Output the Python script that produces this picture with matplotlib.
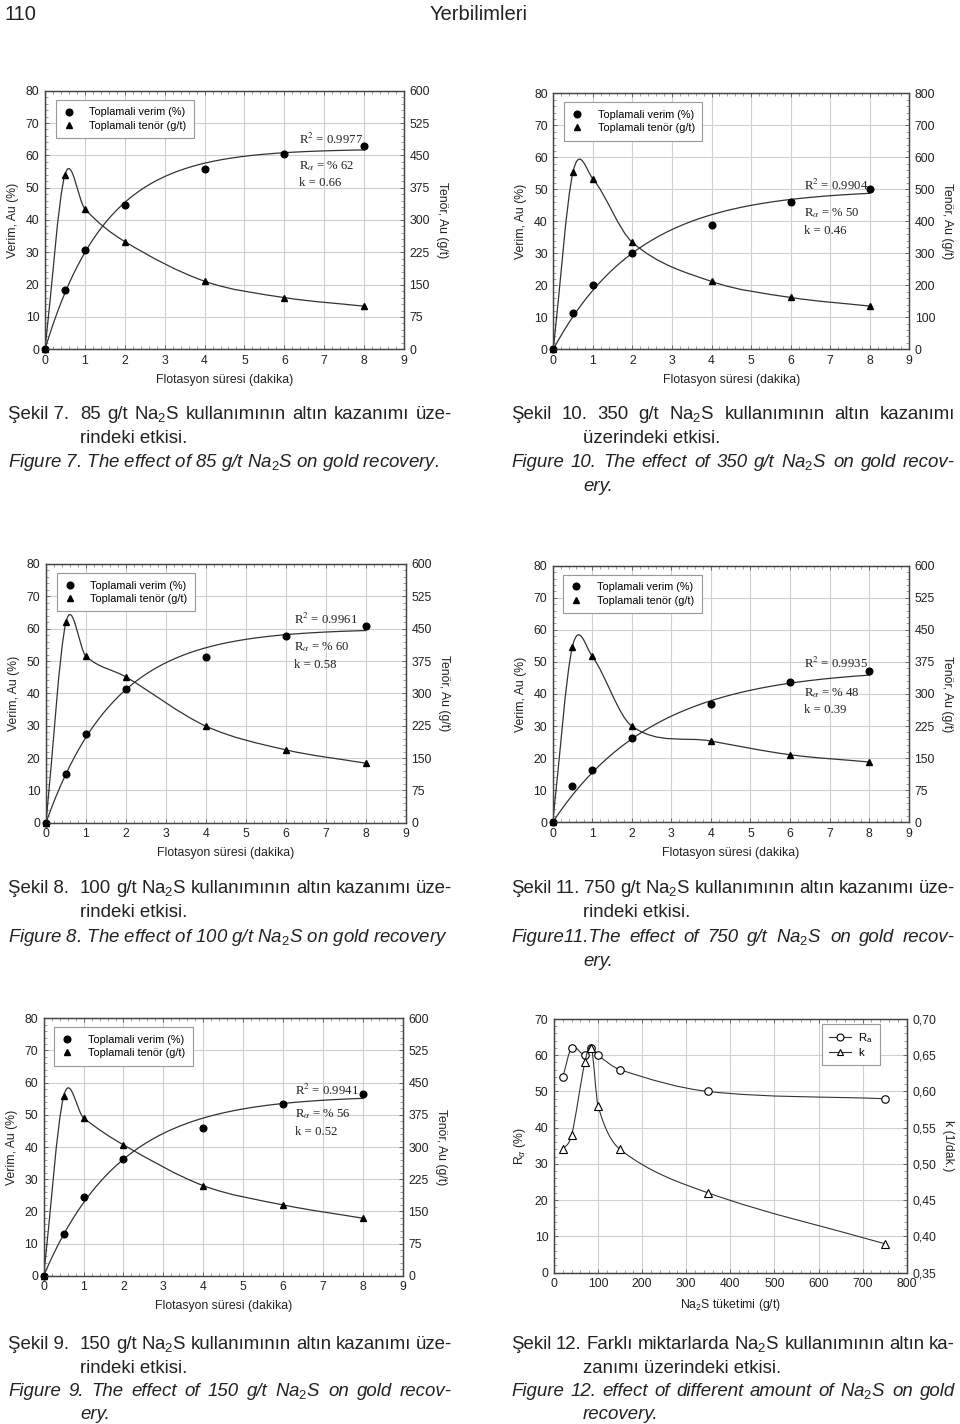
# Na2S flotation page: five recovery/grade charts plus the Ra/k summary chart
import numpy as np
import matplotlib
matplotlib.use("Agg")
from matplotlib import pyplot as plt
from matplotlib.path import Path
from matplotlib.patches import PathPatch
from matplotlib.lines import Line2D
from matplotlib.ticker import MultipleLocator, AutoMinorLocator, FuncFormatter

plt.rcParams['font.family'] = ['Liberation Sans', 'DejaVu Sans']
plt.rcParams['mathtext.fontset'] = 'custom'
plt.rcParams['mathtext.rm'] = 'Liberation Sans'
plt.rcParams['mathtext.it'] = 'Liberation Sans:italic'
plt.rcParams['mathtext.bf'] = 'Liberation Sans:bold'

# ---- data ----
time_min = [0, 0.5, 1, 2, 4, 6, 8]

verim_85 = [0, 18.2, 30.8, 44.7, 55.9, 60.4, 63.0]
tenor_85 = [0, 405, 326, 250, 158, 120, 100]
verim_350 = [0, 11.2, 20.0, 30.1, 38.7, 46.0, 50.2]
tenor_350 = [0, 555, 533, 334, 212, 162, 135]
verim_100 = [0, 15.0, 27.5, 41.3, 51.3, 57.6, 60.7]
tenor_100 = [0, 465, 386, 338, 224, 169, 138]
verim_750 = [0, 11.2, 16.3, 26.2, 36.8, 43.6, 47.3]
tenor_750 = [0, 411, 388, 225, 190, 158, 141]
verim_150 = [0, 12.9, 24.5, 36.4, 46.0, 53.5, 56.4]
tenor_150 = [0, 418, 368, 305, 210, 165, 134]

# fit parameters printed on each chart
r2_vals = {"85": "0.9977", "350": "0.9904", "100": "0.9961", "750": "0.9935", "150": "0.9941"}
rinf_vals = {"85": 62, "350": 50, "100": 60, "750": 48, "150": 56}
k_vals = {"85": 0.66, "350": 0.46, "100": 0.58, "750": 0.39, "150": 0.52}

# summary chart (Sekil 12)
na2s_dose = [20, 40, 70, 85, 100, 150, 350, 750]
ra_pct = [54, 62, 60, 62, 60, 56, 50, 48]
k_rate = [0.52, 0.54, 0.64, 0.66, 0.58, 0.52, 0.46, 0.39]

W, H = 960, 1424
fig = plt.figure(figsize=(W / 100, H / 100), dpi=100)
fig.patch.set_facecolor('white')

LINE = '#333333'
GRID = '#d0d0d0'
TXT = '#222222'
CAP_FONT = ['Liberation Sans', 'DejaVu Sans']


def rect(left, right, top, bottom):
    # pixel box -> figure fraction
    return [left / W, 1 - bottom / H, (right - left) / W, (bottom - top) / H]


def smooth_path(x, y):
    # cubic hermite through the points, drawn as bezier segments
    x = np.asarray(x, float)
    y = np.asarray(y, float)
    n = len(x)
    m = np.zeros(n)
    m[0] = (y[1] - y[0]) / (x[1] - x[0])
    m[-1] = (y[-1] - y[-2]) / (x[-1] - x[-2])
    for i in range(1, n - 1):
        m[i] = (y[i + 1] - y[i - 1]) / (x[i + 1] - x[i - 1])
    verts = [(x[0], y[0])]
    codes = [Path.MOVETO]
    for i in range(n - 1):
        h = x[i + 1] - x[i]
        verts += [(x[i] + h / 3, y[i] + m[i] * h / 3),
                  (x[i + 1] - h / 3, y[i + 1] - m[i + 1] * h / 3),
                  (x[i + 1], y[i + 1])]
        codes += [Path.CURVE4] * 3
    return Path(verts, codes)


def style_axes(ax, ax2):
    for a in (ax, ax2):
        for s in a.spines.values():
            s.set_color('#444444')
            s.set_linewidth(0.9)
    ax.grid(True, color=GRID, lw=0.8)
    ax.set_axisbelow(True)
    ax.tick_params(which='major', direction='in', length=3, width=0.6, labelsize=8.8,
                   labelcolor=TXT, color='#555555', top=True, pad=4)
    ax.tick_params(which='minor', direction='in', length=2, width=0.5, color='#777777', top=True)
    ax2.tick_params(which='major', direction='in', length=3, width=0.6, labelsize=8.8,
                    labelcolor=TXT, color='#555555', pad=4)
    ax2.tick_params(which='minor', direction='in', length=2, width=0.5, color='#777777')
    ax.yaxis.set_minor_locator(AutoMinorLocator(5))
    ax2.yaxis.set_minor_locator(AutoMinorLocator(5))
    ax.xaxis.set_minor_locator(AutoMinorLocator(5))


def time_chart(box, verim, tenor, tenor_max, key, ann_x, ann_y):
    ax = fig.add_axes(rect(*box))
    ax2 = ax.twinx()
    ax.set_xlim(0, 9)
    ax.set_ylim(0, 80)
    ax2.set_ylim(0, tenor_max)
    ax.xaxis.set_major_locator(MultipleLocator(1))
    ax.yaxis.set_major_locator(MultipleLocator(10))
    ax2.yaxis.set_major_locator(MultipleLocator(tenor_max / 8))
    style_axes(ax, ax2)

    # first order model R = Rinf (1 - exp(-k t)) with the printed parameters
    rinf, k = rinf_vals[key], k_vals[key]
    t = np.linspace(0, 8, 200)
    ax.plot(t, rinf * (1 - np.exp(-k * t)), color=LINE, lw=0.9)
    ax.plot(time_min, verim, 'o', color='black', ms=4.8, clip_on=False, zorder=5)

    ax2.add_patch(PathPatch(smooth_path(time_min, tenor), fill=False, ec=LINE, lw=0.9))
    ax2.plot(time_min, tenor, '^', color='black', ms=5.0, clip_on=False, zorder=5)

    ax.set_xlabel("Flotasyon süresi (dakika)", fontsize=8.8, color=TXT, labelpad=5)
    ax.set_ylabel("Verim, Au (%)", fontsize=8.8, color=TXT, labelpad=5)
    ax2.set_ylabel("Tenör, Au (g/t)", fontsize=8.8, color=TXT, rotation=270, labelpad=13)

    handles = [Line2D([], [], ls='none', marker='o', color='black', ms=4.8),
               Line2D([], [], ls='none', marker='^', color='black', ms=5.0)]
    leg = ax.legend(handles, ["Toplamali verim (%)", "Toplamali tenör (g/t)"],
                    loc='upper left', bbox_to_anchor=(0.03, 0.965), borderaxespad=0,
                    fontsize=7.8, fancybox=False, edgecolor='#999999', framealpha=1,
                    handlelength=1.0, handletextpad=1.4, borderpad=0.7, labelspacing=0.3)
    leg.get_frame().set_linewidth(0.8)

    kw = dict(family='Liberation Serif', math_fontfamily='stix', fontsize=9.2,
              color=TXT, va='center', ha='left')
    ax.text(ann_x, ann_y[0], "R$^2$ = " + r2_vals[key], **kw)
    ax.text(ann_x, ann_y[1], "R$_\\alpha$ = % " + str(rinf), **kw)
    ax.text(ann_x, ann_y[2], "k = %.2f" % k, **kw)
    return ax


time_chart((45, 404, 90.7, 349.3), verim_85, tenor_85, 600, "85", 6.37, (65.0, 56.8, 51.4))
time_chart((553.3, 909.3, 93.3, 349.3), verim_350, tenor_350, 800, "350", 6.35, (51.3, 42.5, 37.0))
time_chart((46, 405.7, 564, 822.7), verim_100, tenor_100, 600, "100", 6.2, (62.7, 54.2, 48.8))
time_chart((552.7, 908.7, 565.7, 822.3), verim_750, tenor_750, 600, "750", 6.36, (49.4, 40.4, 35.0))
time_chart((43.7, 402.7, 1018.3, 1275.7), verim_150, tenor_150, 600, "150", 6.3, (57.7, 50.2, 44.8))

# ---- Sekil 12: Ra and k against Na2S dose ----
ax = fig.add_axes(rect(554, 906.7, 1019, 1272.7))
ax2 = ax.twinx()
ax.set_xlim(0, 800)
ax.set_ylim(0, 70)
ax2.set_ylim(0.35, 0.70)
ax.xaxis.set_major_locator(MultipleLocator(100))
ax.yaxis.set_major_locator(MultipleLocator(10))
ax2.yaxis.set_major_locator(MultipleLocator(0.05))
ax2.yaxis.set_major_formatter(FuncFormatter(lambda v, p: ("%.2f" % v).replace('.', ',')))
style_axes(ax, ax2)

ax.add_patch(PathPatch(smooth_path(na2s_dose, ra_pct), fill=False, ec=LINE, lw=0.8))
ax.plot(na2s_dose, ra_pct, 'o', mfc='white', mec='black', mew=0.8, ms=5.4, zorder=5)
ax2.add_patch(PathPatch(smooth_path(na2s_dose, k_rate), fill=False, ec=LINE, lw=0.8))
ax2.plot(na2s_dose, k_rate, '^', mfc='white', mec='black', mew=0.8, ms=5.6, zorder=5)

ax.set_xlabel("Na$_2$S tüketimi (g/t)", fontsize=8.8, color=TXT, labelpad=5)
ax.set_ylabel("R$_\\alpha$ (%)", fontsize=8.8, color=TXT, labelpad=5)
ax2.set_ylabel("k (1/dak.)", fontsize=8.8, color=TXT, rotation=270, labelpad=13)

handles = [Line2D([], [], color=LINE, lw=0.8, marker='o', mfc='white', mec='black', mew=0.8, ms=5),
           Line2D([], [], color=LINE, lw=0.8, marker='^', mfc='white', mec='black', mew=0.8, ms=5)]
leg = ax2.legend(handles, ["R$_\\mathrm{a}$", "k"], loc='upper right', bbox_to_anchor=(0.924, 0.979),
                 borderaxespad=0, fontsize=8.2, fancybox=False, edgecolor='#999999',
                 framealpha=1, handlelength=2.0, handletextpad=0.6, borderpad=0.6,
                 labelspacing=0.3)
leg.get_frame().set_linewidth(0.8)

# ---- page header and captions ----
fig.text(5 / W, 1 - 20 / H, "110", fontsize=14.5, family=CAP_FONT, color=TXT, va='baseline')
fig.text(479 / W, 1 - 20 / H, "Yerbilimleri", fontsize=14.5, family=CAP_FONT, color=TXT,
         va='baseline', ha='center')

renderer = fig.canvas.get_renderer()
CAP_SIZE = 13.4


def cap_line(text, x0, y, x1=None, italic=False):
    style = 'italic' if italic else 'normal'
    kw = dict(fontsize=CAP_SIZE, family=CAP_FONT, style=style, color=TXT, va='baseline')
    if x1 is None:
        fig.text(x0 / W, 1 - y / H, text, **kw)
        return
    # justified line: spread the words between x0 and x1
    words = text.split()
    items = [fig.text(x0 / W, 1 - y / H, w, **kw) for w in words]
    widths = [t.get_window_extent(renderer).width for t in items]
    gap = (x1 - x0 - sum(widths)) / (len(words) - 1)
    x = x0
    for t, w in zip(items, widths):
        t.set_x(x / W)
        x += w + gap


# Sekil 7 / 10
cap_line("Şekil 7.", 8, 419)
cap_line("85 g/t Na$_2$S kullanımının altın kazanımı üze-", 80, 419, 452)
cap_line("rindeki etkisi.", 80, 443)
cap_line("Figure 7. The effect of 85 g/t Na$_2$S on gold recovery.", 8, 467, italic=True)
cap_line("Şekil 10. 350 g/t Na$_2$S kullanımının altın kazanımı", 511, 419, 955)
cap_line("üzerindeki etkisi.", 583, 443)
cap_line("Figure 10. The effect of 350 g/t Na$_2$S on gold recov-", 511, 467, 955, italic=True)
cap_line("ery.", 583, 491, italic=True)

# Sekil 8 / 11
cap_line("Şekil 8.", 8, 893)
cap_line("100 g/t Na$_2$S kullanımının altın kazanımı üze-", 80, 893, 452)
cap_line("rindeki etkisi.", 80, 917)
cap_line("Figure 8. The effect of 100 g/t Na$_2$S on gold recovery", 8, 942, italic=True)
cap_line("Şekil 11. 750 g/t Na$_2$S kullanımının altın kazanımı üze-", 511, 893, 955)
cap_line("rindeki etkisi.", 583, 917)
cap_line("Figure11.The effect of 750 g/t Na$_2$S on gold recov-", 511, 942, 955, italic=True)
cap_line("ery.", 583, 966, italic=True)

# Sekil 9 / 12
cap_line("Şekil 9.", 8, 1349)
cap_line("150 g/t Na$_2$S kullanımının altın kazanımı üze-", 80, 1349, 452)
cap_line("rindeki etkisi.", 80, 1373)
cap_line("Figure 9. The effect of 150 g/t Na$_2$S on gold recov-", 8, 1396, 452, italic=True)
cap_line("ery.", 80, 1419, italic=True)
cap_line("Şekil 12. Farklı miktarlarda Na$_2$S kullanımının altın ka-", 511, 1349, 955)
cap_line("zanımı üzerindeki etkisi.", 583, 1373)
cap_line("Figure 12.  effect of different amount of Na$_2$S on gold", 511, 1396, 955, italic=True)
cap_line("recovery.", 583, 1419, italic=True)

fig.savefig("out.png", dpi=100, facecolor='white')
